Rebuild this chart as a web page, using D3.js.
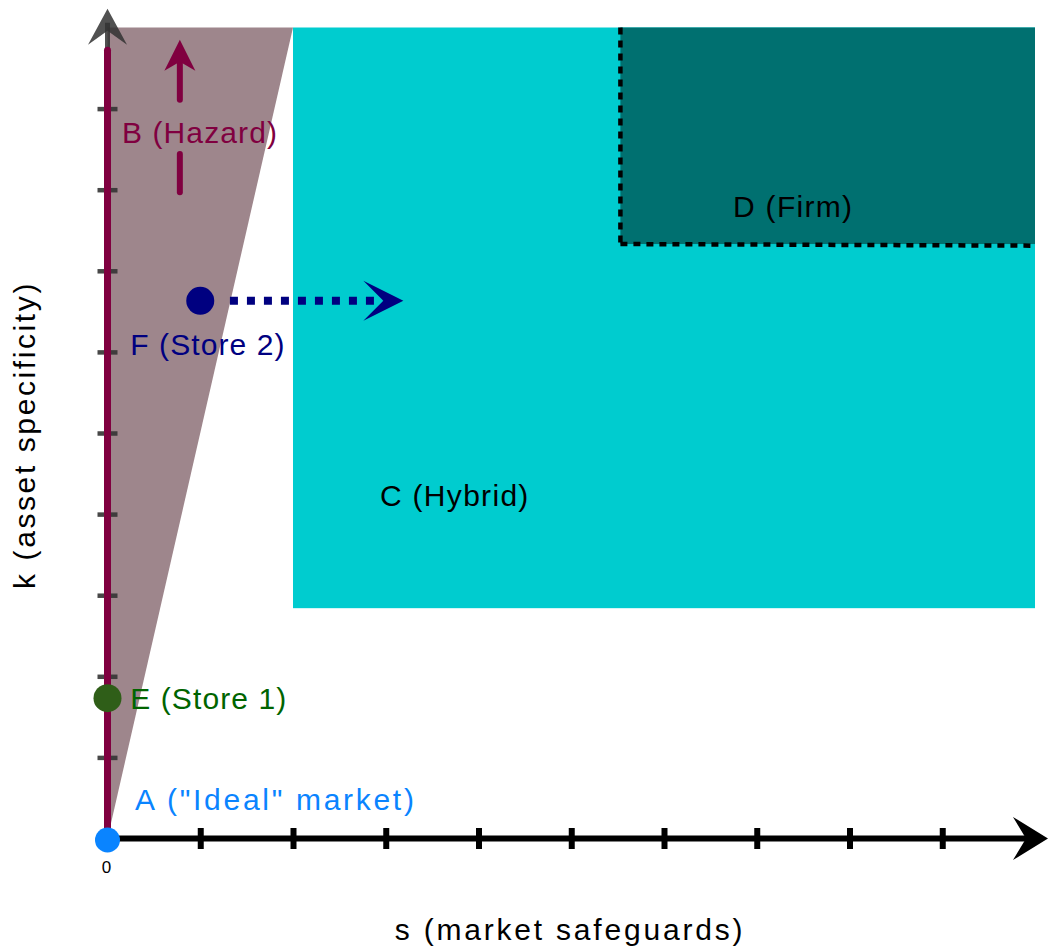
<!DOCTYPE html>
<html><head><meta charset="utf-8">
<script src="https://cdn.jsdelivr.net/npm/d3@7"></script>
<style>body{margin:0;background:#fff}svg{display:block}</style>
</head><body>
<svg id="c" width="1049" height="946"></svg>
<script>
// ---- data (chart units) ----
const xTicks = [1,2,3,4,5,6,7,8,9];
const yTicks = [1,2,3,4,5,6,7,8,9];
const hazardWedge = [[0,0],[2,10],[0,10]];
const hybridX = [2,10];
const hybridY = [2.84,10];
const firmX = [5.53,10];
const firmY = [7.33,10];
const firmEdgeV = [[5.53,10],[5.53,7.33]];
const firmEdgeH = [[5.53,7.33],[10,7.31]];
const pointNames = ["A","E","F"];
const pointX = [0,0,1];
const pointY = [0,1.73,6.63];
const hazardLine = [[0,0],[0,9.72]];
const hazardArrowLow = [[0.78,7.97],[0.78,8.44]];
const hazardArrowHigh = [[0.78,9.11],[0.78,9.85]];
const storeArrow = [[1.32,6.63],[3.19,6.63]];
const axisEnds = {x:10.14, y:10.23};
const labelText = ["B (Hazard)","F (Store 2)","E (Store 1)","A (\"Ideal\" market)","C (Hybrid)","D (Firm)"];
const labelX = [0.156,0.245,0.245,0.296,2.938,6.744];
const labelY = [8.576,5.96,1.597,0.351,4.10,7.663];
const originLabel = "0";
const xTitle = "s (market safeguards)";
const yTitle = "k (asset specificity)";

// ---- styles ----
const colors = {wedge:"#9e868c", hybrid:"#00cccf", firm:"#007070", hazard:"#800040",
  A:"#0a84ff", E:"#2f5e18", F:"#000080", labels:["#800040","#000080","#006400","#0a84ff","#000","#000"]};
const labelSpacing = ["1.1px","1.1px","1.1px","2.7px","1.3px","1.3px"];
const pointR = {A:12.5, E:14, F:14};
const FONT = "'Liberation Sans', Arial, sans-serif";

const svg = d3.select("#c");
const x = d3.scaleLinear().domain([0,10]).range([107.5,1035]);
const y = d3.scaleLinear().domain([0,10]).range([838.5,27.5]);
const line = d3.line().x(d=>x(d[0])).y(d=>y(d[1]));

// regions
svg.append("path").attr("d", line(hazardWedge)+"Z").attr("fill",colors.wedge);
svg.append("rect").attr("x",x(hybridX[0])).attr("y",y(hybridY[1]))
  .attr("width",x(hybridX[1])-x(hybridX[0])).attr("height",y(hybridY[0])-y(hybridY[1]))
  .attr("fill",colors.hybrid);
svg.append("rect").attr("x",x(firmX[0])).attr("y",y(firmY[1]))
  .attr("width",x(firmX[1])-x(firmX[0])).attr("height",y(firmY[0])-y(firmY[1]))
  .attr("fill",colors.firm);
[firmEdgeV, firmEdgeH].forEach(seg=>{
  svg.append("path").attr("d",line(seg)).attr("stroke","#000").attr("stroke-width",4.5)
    .attr("stroke-dasharray","7,6").attr("fill","none");
});

function arrowHead(tx, ty, dx, dy, len, half, notch){
  const bx = tx - dx*len, by = ty - dy*len;
  const px = -dy, py = dx;
  const nx = tx - dx*(len-notch), ny = ty - dy*(len-notch);
  return `M${tx},${ty}L${bx+px*half},${by+py*half}L${nx},${ny}L${bx-px*half},${by-py*half}Z`;
}

// x axis
svg.append("line").attr("x1",x(0)).attr("y1",y(0)).attr("x2",x(axisEnds.x)-12).attr("y2",y(0))
  .attr("stroke","#000").attr("stroke-width",6);
svg.append("path").attr("d",arrowHead(x(axisEnds.x),y(0),1,0,35,21.5,13)).attr("fill","#000");
const gx = svg.append("g").attr("transform",`translate(0,${y(0)-10.5})`)
  .call(d3.axisBottom(x).tickValues(xTicks).tickSize(21).tickFormat(""));
gx.select(".domain").remove();
gx.selectAll(".tick line").attr("stroke","#000").attr("stroke-width",6);

// y axis (grey)
svg.append("line").attr("x1",x(0)).attr("y1",y(0)).attr("x2",x(0)).attr("y2",y(axisEnds.y)+14)
  .attr("stroke","#333").attr("stroke-width",5).attr("opacity",0.85);
svg.append("path").attr("d",arrowHead(x(0),y(axisEnds.y),0,-1,36,19.5,14)).attr("fill","#333").attr("opacity",0.85);
const gy = svg.append("g").attr("transform",`translate(${x(0)+10},0)`)
  .call(d3.axisLeft(y).tickValues(yTicks).tickSize(20).tickFormat(""));
gy.select(".domain").remove();
gy.selectAll(".tick line").attr("stroke","#333").attr("stroke-width",4.5).attr("opacity",0.9);

// hazard line on y axis
svg.append("path").attr("d",line(hazardLine)).attr("stroke",colors.hazard).attr("stroke-width",7).attr("stroke-linecap","round");

// hazard arrow
svg.append("path").attr("d",line(hazardArrowLow)).attr("stroke",colors.hazard).attr("stroke-width",6).attr("stroke-linecap","round");
svg.append("path").attr("d",line([hazardArrowHigh[0],[hazardArrowHigh[1][0],hazardArrowHigh[1][1]-0.2]])).attr("stroke",colors.hazard).attr("stroke-width",6).attr("stroke-linecap","round");
svg.append("path").attr("d",arrowHead(x(hazardArrowHigh[1][0]),y(hazardArrowHigh[1][1]),0,-1,31,15.5,9)).attr("fill",colors.hazard);

// store arrow (dotted)
const sa0 = storeArrow[0], sa1 = storeArrow[1];
svg.append("line").attr("x1",x(sa0[0])).attr("y1",y(sa0[1])).attr("x2",x(sa1[0])-20).attr("y2",y(sa1[1]))
  .attr("stroke",colors.F).attr("stroke-width",8).attr("stroke-dasharray","8,9");
svg.append("path").attr("d",arrowHead(x(sa1[0]),y(sa1[1]),1,0,40,20,20)).attr("fill",colors.F);

// labels
svg.selectAll("text.lbl").data(labelText).join("text").attr("class","lbl")
  .attr("x",(d,i)=>x(labelX[i])).attr("y",(d,i)=>y(labelY[i]))
  .attr("fill",(d,i)=>colors.labels[i])
  .style("font-family",FONT).style("font-size","30px").style("letter-spacing",(d,i)=>labelSpacing[i])
  .text(d=>d);

// points
svg.selectAll("circle.pt").data(pointNames).join("circle").attr("class","pt")
  .attr("cx",(d,i)=>x(pointX[i])).attr("cy",(d,i)=>y(pointY[i])+(d==="A"?1.5:0))
  .attr("r",d=>pointR[d]).attr("fill",d=>colors[d]);

// origin label
svg.append("text").attr("x",x(0)-1).attr("y",873).attr("text-anchor","middle")
  .style("font-family",FONT).style("font-size","17px").text(originLabel);

// axis titles
svg.append("text").attr("x",570).attr("y",940).attr("text-anchor","middle")
  .style("font-family",FONT).style("font-size","30px").style("letter-spacing","2.8px").text(xTitle);
svg.append("text").attr("transform","translate(35,435) rotate(-90)").attr("text-anchor","middle")
  .style("font-family",FONT).style("font-size","30px").style("letter-spacing","2.6px").text(yTitle);
</script>
</body></html>
